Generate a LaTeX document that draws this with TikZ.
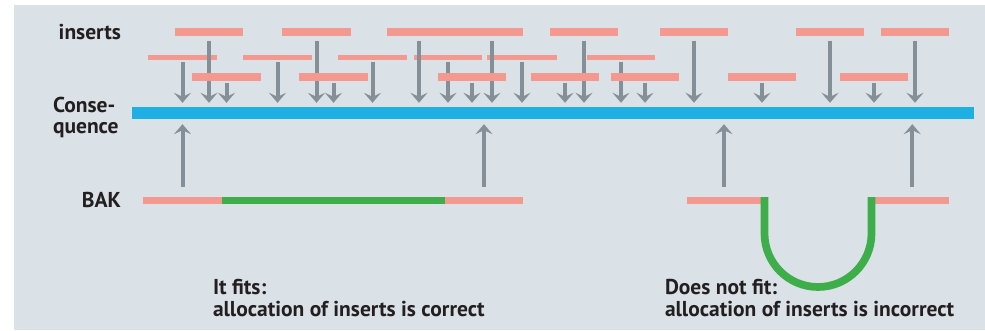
\documentclass[tikz,border=0pt]{standalone}
\usepackage{fontspec}
\setmainfont{PT Sans}
\usetikzlibrary{arrows.meta}
\definecolor{bgc}{HTML}{DAE1E7}
\definecolor{pinkc}{HTML}{F4998F}
\definecolor{greenc}{HTML}{3DAE49}
\definecolor{bluec}{HTML}{1EAFE3}
\definecolor{arrc}{HTML}{858F97}
\definecolor{textc}{HTML}{231F20}
\pgfdeclarelayer{fg}
\pgfsetlayers{main,fg}
\begin{document}
\begin{tikzpicture}[x=1pt,y=-1pt,
  barbox/.style={rectangle,fill=pinkc,inner sep=0pt,outer sep=0pt,minimum height=7.5pt},
  thinbar/.style={barbox,minimum height=5pt},
  greenbar/.style={barbox,fill=greenc},
  darr/.style={draw=arrc,line width=4pt,-{Stealth[width=17pt,length=10pt,inset=4pt]}},
  lbl/.style={font=\bfseries\fontsize{21.5}{22.7}\selectfont,text=textc,inner sep=0pt,outer sep=0pt}]
\useasboundingbox (0,0) rectangle (985,330);
\fill[bgc] (14,5) rectangle (985,330);

% consequence bar
\node[rectangle,fill=bluec,inner sep=0pt,minimum width=842pt,minimum height=12pt] (cons) at (553,113) {};

% row 2 (below arrows)
\node[thinbar,minimum width=69pt] (b1) at (182.5,57.7) {};
\node[thinbar,minimum width=69pt] (b2) at (277.5,57.7) {};
\node[thinbar,minimum width=69pt] (b3) at (372.5,57.7) {};
\node[thinbar,minimum width=68pt] (b4) at (448,57.7) {};
\node[thinbar,minimum width=70pt] (b5) at (522,57.7) {};
\node[thinbar,minimum width=68pt] (b6) at (621,57.7) {};

% row 1
\node[barbox,minimum width=68pt] (a1) at (209,32) {};
\node[barbox,minimum width=69pt] (a2) at (316.5,32) {};
\node[barbox,minimum width=136pt] (a3) at (455,32) {};
\node[barbox,minimum width=68pt] (a4) at (584,32) {};
\node[barbox,minimum width=68pt] (a5) at (694,32) {};
\node[barbox,minimum width=68pt] (a6) at (830,32) {};
\node[barbox,minimum width=68pt] (a7) at (915,32) {};

% row 3 (above arrows)
\begin{pgfonlayer}{fg}
\node[barbox,minimum width=69pt] (c1) at (226.5,77) {};
\node[barbox,minimum width=69pt] (c2) at (333.5,77) {};
\node[barbox,minimum width=68pt] (c3) at (472,77) {};
\node[barbox,minimum width=68pt] (c4) at (565,77) {};
\node[barbox,minimum width=68pt] (c5) at (645,77) {};
\node[barbox,minimum width=68pt] (c6) at (762,77) {};
\node[barbox,minimum width=68pt] (c7) at (874,77) {};
\end{pgfonlayer}

% down arrows from row 1
\foreach \n in {a1,a2,a4,a5,a6,a7}
  \draw[darr,shorten <=5pt,shorten >=4pt] (\n.south) -- (\n.south |- cons.north);
\draw[darr,shorten <=5pt,shorten >=4pt] (419,0 |- a3.south) -- (419,0 |- cons.north);
\draw[darr,shorten <=5pt,shorten >=4pt] (492,0 |- a3.south) -- (492,0 |- cons.north);
% down arrows from row 2
\foreach \n in {b1,b2,b3,b4,b5,b6}
  \draw[darr,shorten <=2pt,shorten >=4pt] (\n.south) -- (\n.south |- cons.north);
% down arrows from row 3
\foreach \n in {c1,c2,c3,c4,c5,c6,c7}
  \draw[darr,shorten <=2pt,shorten >=4pt] (\n.south) -- (\n.south |- cons.north);

% BAK left (fits)
\node[barbox,minimum width=79pt] (l1) at (182.5,200.5) {};
\node[greenbar,minimum width=223pt] (lg) at (333.5,200.5) {};
\node[barbox,minimum width=78pt] (l2) at (484,200.5) {};
% BAK right (does not fit)
\node[barbox,minimum width=74pt] (r1) at (724,200.5) {};
\node[barbox,minimum width=74pt] (r2) at (912.3,200.5) {};
\draw[greenc,line width=7.7pt] (764.5,197) -- (764.5,233.5)
  .. controls (764.5,263) and (788.5,287) .. (818,287)
  .. controls (847.5,287) and (871.5,263) .. (871.5,233.5) -- (871.5,197);

% up arrows
\foreach \n in {l1,l2,r1,r2}
  \draw[darr,shorten <=10pt,shorten >=5pt] (\n.north) -- (\n.north |- cons.south);

% labels
\node[lbl,anchor=base east] (tins) at (121,39) {inserts};
\node[lbl,anchor=base west] (tcons1) at (53,112) {Conse-};
\node[lbl,anchor=base west] (tcons2) at (53,133.3) {quence};
\node[lbl,anchor=base east] (tbak) at (121,207) {BAK};
\node[lbl,anchor=base west,align=left] (tfit) at (213,316.7) {It fits:\\allocation of inserts is correct};
\node[lbl,anchor=base west,align=left] (tnofit) at (665,316.7) {Does not fit:\\allocation of inserts is incorrect};
\end{tikzpicture}
\end{document}
